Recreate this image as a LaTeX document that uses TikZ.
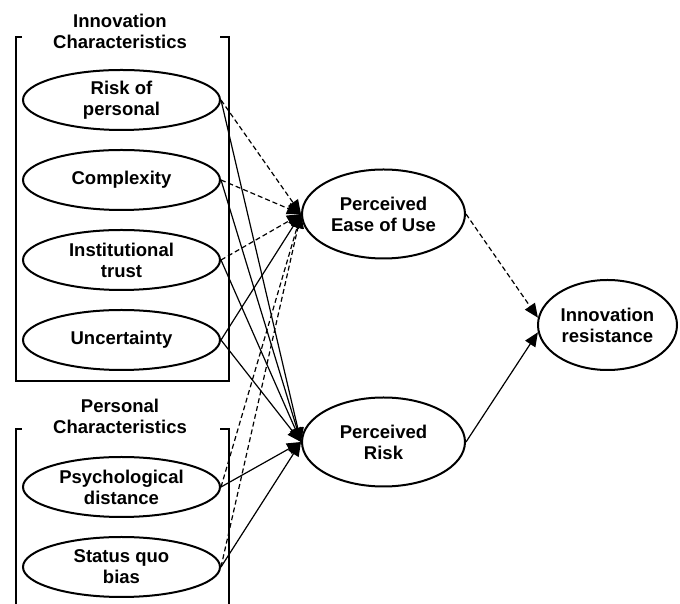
\documentclass[tikz,border=0pt]{standalone}
\usepackage{fontspec}
\setmainfont{Liberation Sans}
\usetikzlibrary{arrows.meta,positioning,shapes.geometric}
\tikzset{
  factornode/.style={
    ellipse, draw, line width=2pt, inner sep=0pt,
    minimum width=197pt, minimum height=60pt, align=center,
    font=\fontsize{18.5}{21}\selectfont\bfseries
  },
  constructnode/.style={
    ellipse, draw, line width=2pt, inner sep=0pt,
    minimum width=163pt, minimum height=89pt, align=center,
    font=\fontsize{18.5}{21}\selectfont\bfseries
  },
  grouptitle/.style={
    align=center, inner sep=0pt,
    font=\fontsize{18.5}{21}\selectfont\bfseries
  },
  pathsolid/.style={-{Triangle[length=14pt,width=12pt]}, line width=1.2pt},
  pathdashed/.style={pathsolid, dash pattern=on 5pt off 3pt},
  bracketline/.style={line width=1.8pt},
}

\begin{document}
\begin{tikzpicture}[x=1pt, y=1pt, node distance=18pt]
  \useasboundingbox (0,0) rectangle (680,604);

  % innovation characteristics
  \node[grouptitle] (innotitle) at (120,572.5) {Innovation\\Characteristics};
  \node[factornode] (risk) at (121.5,504) {Risk of\\personal};
  \node[factornode, below=of risk] (complex) {Complexity};
  \node[factornode, below=of complex] (trust) {Institutional\\trust};
  \node[factornode, below=of trust] (uncert) {Uncertainty};

  % personal characteristics
  \node[grouptitle] (perstitle) at (120,188) {Personal\\Characteristics};
  \node[factornode] (psych) at (121.5,117) {Psychological\\distance};
  \node[factornode, below=of psych] (status) {Status quo\\bias};

  % mediators and outcome
  \node[constructnode] (peou) at (383.5,390) {Perceived\\Ease of Use};
  \node[constructnode] (prisk) at (383.5,162) {Perceived\\Risk};
  \node[constructnode, minimum width=139pt, minimum height=90pt] (resist) at (607.5,279) {Innovation\\resistance};

  % group brackets
  \draw[bracketline] (22,567) -- (16,567) -- (16,223) -- (229,223) -- (229,567) -- (220,567);
  \draw[bracketline] (16,-2) -- (16,175) -- (22,175);
  \draw[bracketline] (220,175) -- (229,175) -- (229,-2);

  \foreach \f in {risk,complex,trust,psych,status}
    \draw[pathdashed] (\f.east) -- (peou.west);
  \draw[pathsolid] (uncert.east) -- (peou.west);
  \foreach \f in {risk,complex,trust,uncert,psych,status}
    \draw[pathsolid] (\f.east) -- (prisk.west);
  \draw[pathdashed] (peou.east) -- (resist.174);
  \draw[pathsolid] (prisk.east) -- (resist.186);
\end{tikzpicture}
\end{document}
